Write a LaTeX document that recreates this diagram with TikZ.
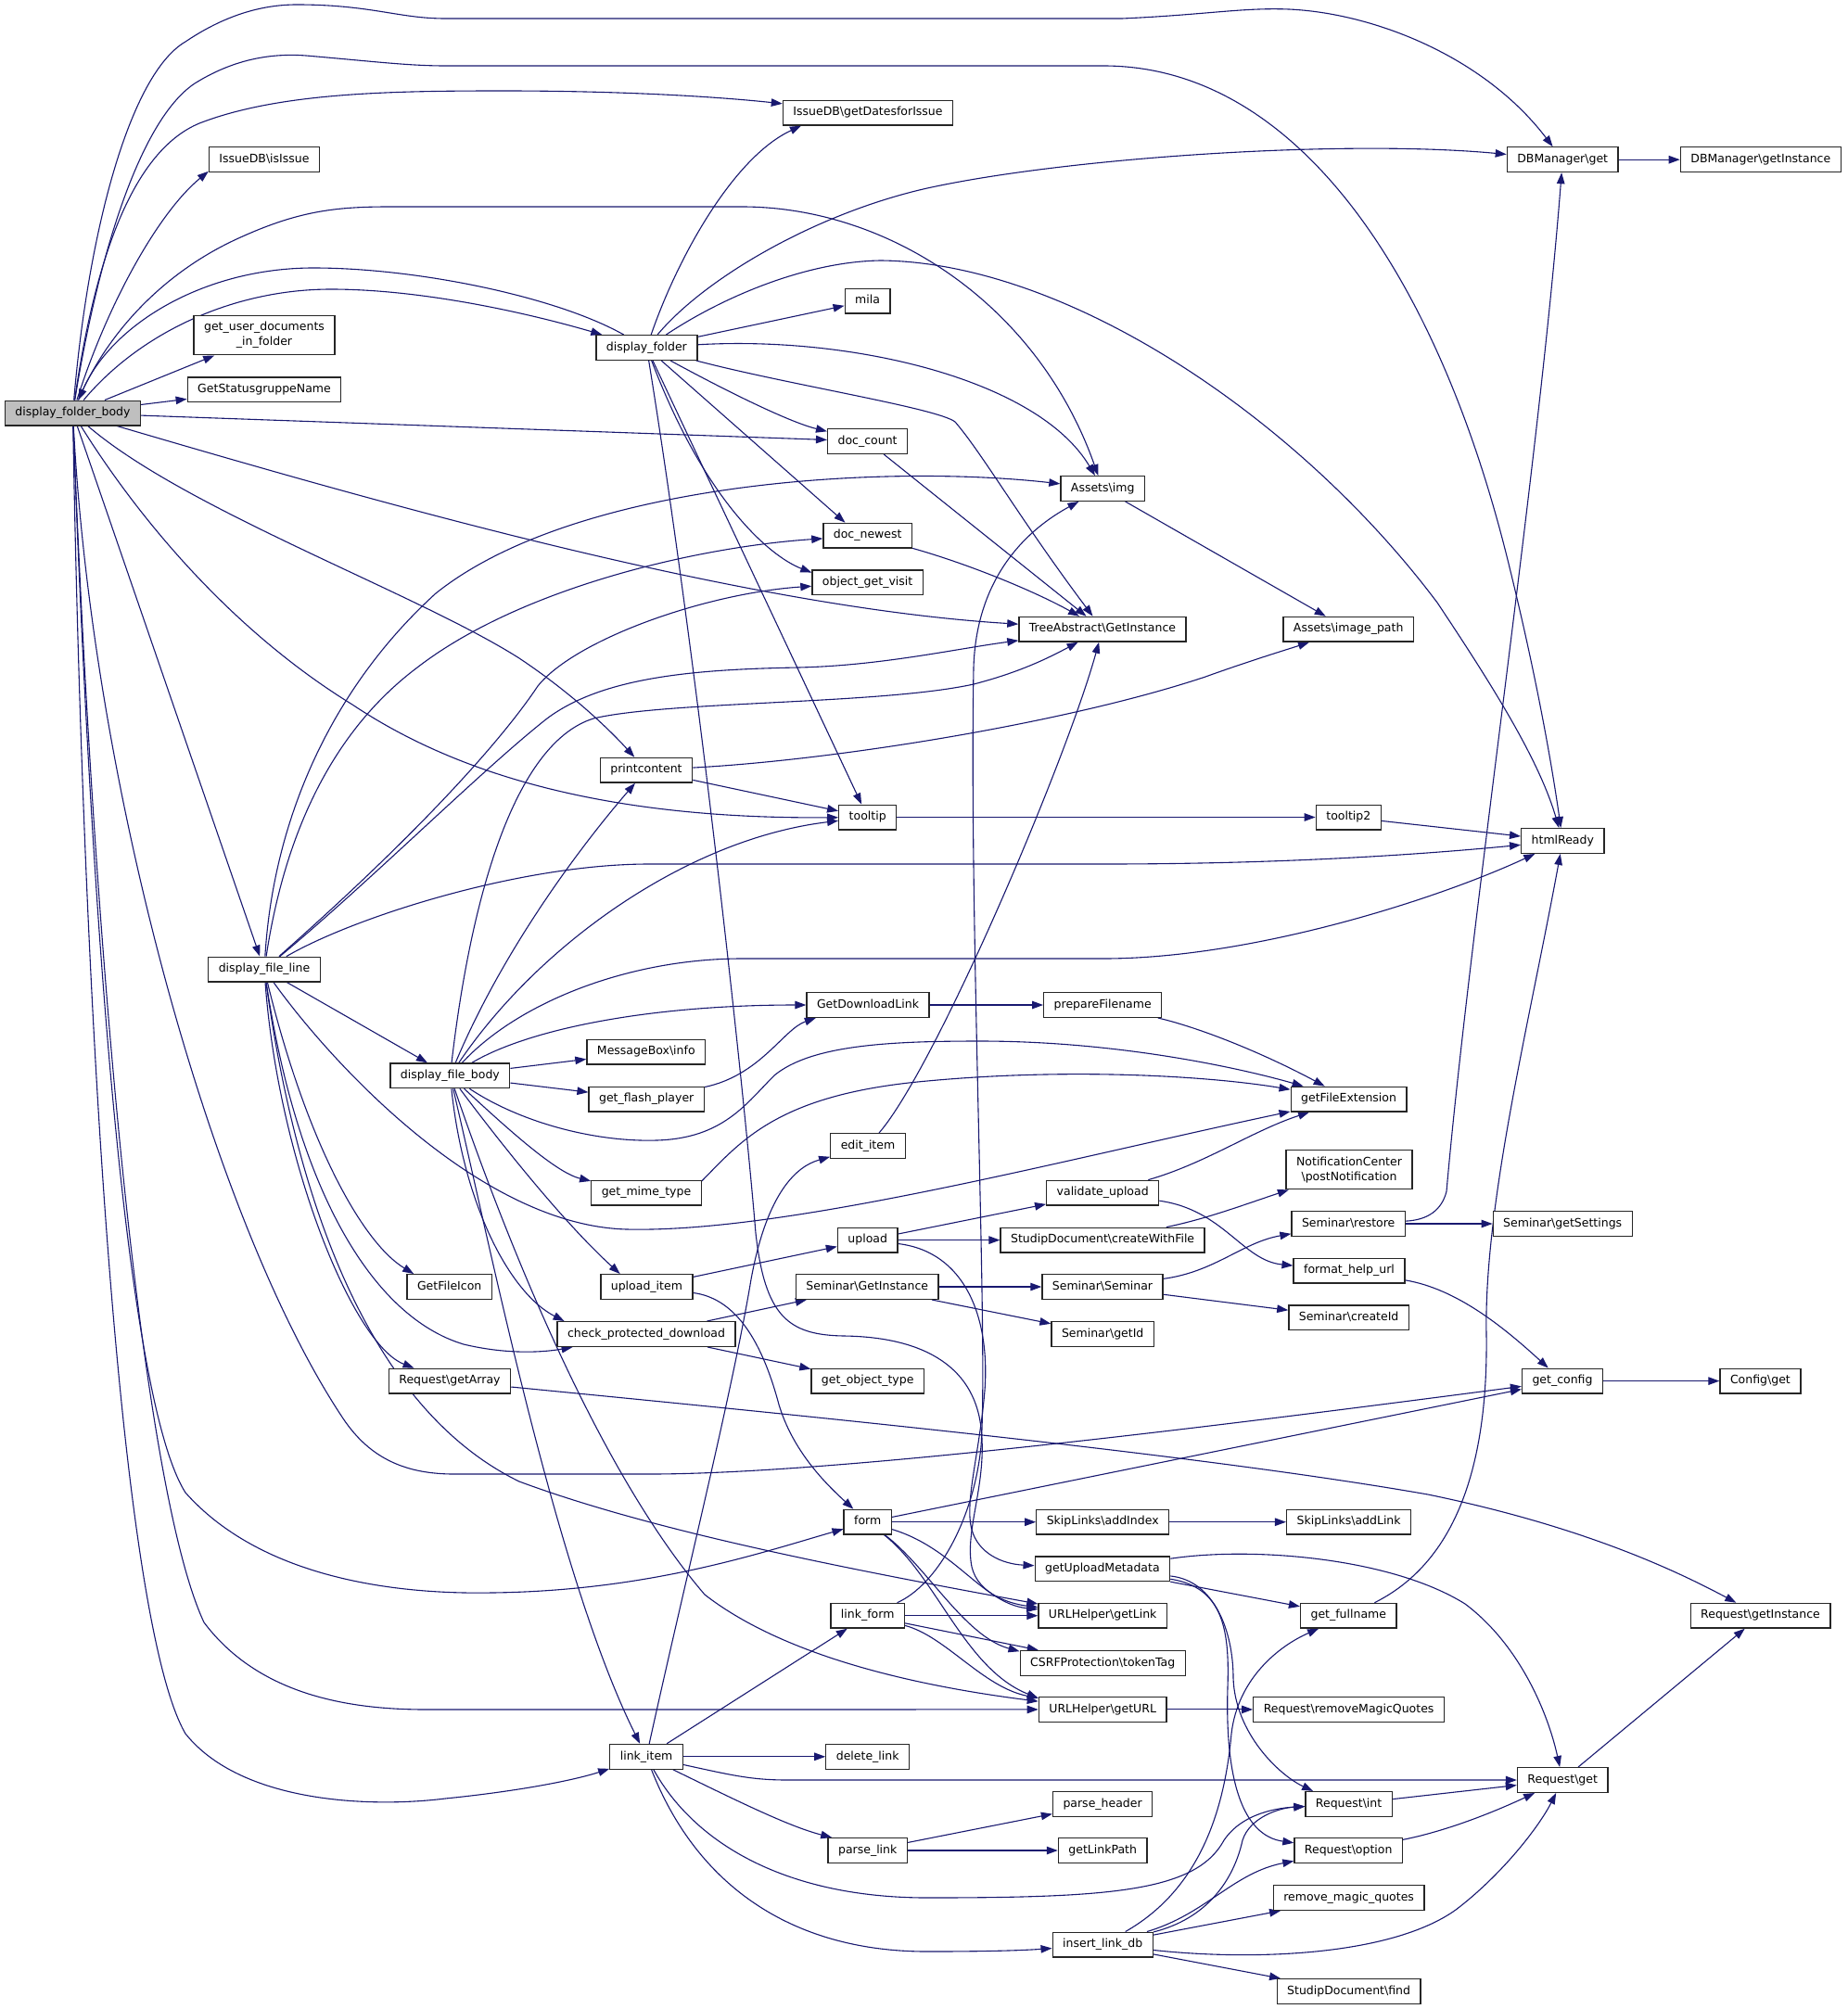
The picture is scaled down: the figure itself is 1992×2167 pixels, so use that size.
\documentclass[tikz,border=0pt]{standalone}
\usepackage{fontspec}
\setmainfont{DejaVu Sans}
\usetikzlibrary{arrows.meta, backgrounds}
\definecolor{edgeblue}{HTML}{191970}
\definecolor{rootgray}{HTML}{BFBFBF}
\newcommand{\bsl}{\textbackslash}

\begin{document}
\begin{tikzpicture}[%
        x=1pt, y=-1pt,
        fnbox/.style={draw=black!85, line width=1.3pt, fill=white, inner xsep=11pt,
            font={\fontsize{12.5}{16}\selectfont}},
        fn/.style={fnbox, minimum height=26.7pt, inner ysep=0pt, text height=9.5pt, text depth=3pt},
        fnii/.style={fnbox, align=center, inner ysep=7pt},
        fnroot/.style={fn, fill=rootgray},
        call/.style={draw=edgeblue, line width=1.1pt, -{Triangle[length=12pt,width=8.5pt]}}
    ]
    \useasboundingbox (0,0) rectangle (1992,2167);

    % --- functions, column by column ---
    \node[fnroot] (dfb) at (78.5,445.5) {display\_folder\_body};

    \node[fn] (isIssue) at (285,172) {IssueDB\bsl isIssue};
    \node[fnii] (getuser) at (285,361.6) {get\_user\_documents\\\_in\_folder};
    \node[fn] (statusg) at (285,420.2) {GetStatusgruppeName};
    \node[fn] (dfl) at (285,1045.6) {display\_file\_line};

    \node[fn] (dfbody) at (485.4,1160.3) {display\_file\_body};
    \node[fn] (fileicon) at (484.7,1388) {GetFileIcon};
    \node[fn] (getarray) at (485,1489.6) {Request\bsl getArray};

    \node[fn] (dfolder) at (697.4,375) {display\_folder};
    \node[fn] (printc) at (697,830.7) {printcontent};
    \node[fn] (msgbox) at (696.8,1134.6) {MessageBox\bsl info};
    \node[fn] (flash) at (697.2,1185.6) {get\_flash\_player};
    \node[fn] (mime) at (697,1286.6) {get\_mime\_type};
    \node[fn] (uploaditem) at (697.4,1388) {upload\_item};
    \node[fn] (checkpd) at (697,1439) {check\_protected\_download};
    \node[fn] (linkitem) at (697.1,1894.8) {link\_item};

    \node[fn] (getDates) at (936,121.7) {IssueDB\bsl getDatesforIssue};
    \node[fn] (mila) at (935.6,324.5) {mila};
    \node[fn] (doccount) at (935.6,476) {doc\_count};
    \node[fn] (docnewest) at (935.7,577.7) {doc\_newest};
    \node[fn] (visit) at (935.6,628.2) {object\_get\_visit};
    \node[fn] (tooltip) at (935.7,881.5) {tooltip};
    \node[fn] (dlink) at (936,1084) {GetDownloadLink};
    \node[fn] (edititem) at (936,1236) {edit\_item};
    \node[fn] (upload) at (935.7,1337.6) {upload};
    \node[fn] (semgi) at (935.3,1388) {Seminar\bsl GetInstance};
    \node[fn] (objtype) at (935.7,1489.6) {get\_object\_type};
    \node[fn] (form) at (935.7,1641.7) {form};
    \node[fn] (linkform) at (935.7,1742.7) {link\_form};
    \node[fn] (dellink) at (935.7,1894.8) {delete\_link};
    \node[fn] (parselink) at (935.7,1996) {parse\_link};

    \node[fn] (img) at (1189.2,527) {Assets\bsl img};
    \node[fn] (tree) at (1189,678.7) {TreeAbstract\bsl GetInstance};
    \node[fn] (prepfn) at (1189.2,1084) {prepareFilename};
    \node[fn] (validup) at (1189.2,1286.6) {validate\_upload};
    \node[fn] (createwf) at (1189.1,1337.6) {StudipDocument\bsl createWithFile};
    \node[fn] (seminar) at (1189,1388) {Seminar\bsl Seminar};
    \node[fn] (getid) at (1189.2,1439) {Seminar\bsl getId};
    \node[fn] (addindex) at (1189.2,1641.7) {SkipLinks\bsl addIndex};
    \node[fn] (upmeta) at (1188.9,1692.2) {getUploadMetadata};
    \node[fn] (getlink) at (1189.2,1742.7) {URLHelper\bsl getLink};
    \node[fn] (csrf) at (1189.2,1793.8) {CSRFProtection\bsl tokenTag};
    \node[fn] (geturl) at (1189.2,1843.9) {URLHelper\bsl getURL};
    \node[fn] (parsehdr) at (1189.1,1945.9) {parse\_header};
    \node[fn] (linkpath) at (1189.2,1996) {getLinkPath};
    \node[fn] (insertdb) at (1189.2,2097.5) {insert\_link\_db};

    \node[fn] (imgpath) at (1454.2,678.7) {Assets\bsl image\_path};
    \node[fn] (tooltipii) at (1454.3,881.5) {tooltip2};
    \node[fn] (fileext) at (1454.6,1185.6) {getFileExtension};
    \node[fnii] (notify) at (1455,1261.7) {NotificationCenter\\\bsl postNotification};
    \node[fn] (restore) at (1454.2,1320) {Seminar\bsl restore};
    \node[fn] (helpurl) at (1455,1370.7) {format\_help\_url};
    \node[fn] (createid) at (1454.6,1421.4) {Seminar\bsl createId};
    \node[fn] (addlink) at (1454.6,1641.7) {SkipLinks\bsl addLink};
    \node[fn] (fullname) at (1454.3,1742.7) {get\_fullname};
    \node[fn] (rmq) at (1454.6,1843.9) {Request\bsl removeMagicQuotes};
    \node[fn] (reqint) at (1454.6,1945.9) {Request\bsl int};
    \node[fn] (reqopt) at (1454.2,1996) {Request\bsl option};
    \node[fn] (rmmq) at (1454.6,2047) {remove\_magic\_quotes};
    \node[fn] (find) at (1454.6,2148) {StudipDocument\bsl find};

    \node[fn] (dbget) at (1685.2,172.2) {DBManager\bsl get};
    \node[fn] (html) at (1685.3,907) {htmlReady};
    \node[fn] (settings) at (1685.2,1320) {Seminar\bsl getSettings};
    \node[fn] (config) at (1685,1489.6) {get\_config};
    \node[fn] (reqget) at (1685.2,1920) {Request\bsl get};

    \node[fn] (dbinst) at (1898.8,172.2) {DBManager\bsl getInstance};
    \node[fn] (cfgget) at (1898.4,1489.6) {Config\bsl get};
    \node[fn] (reqinst) at (1898.5,1742.7) {Request\bsl getInstance};

    \begin{scope}[on background layer]
    \fill[white] (0,0) rectangle (1992,2167);

    % --- display_folder_body ---
    \draw[call] (dfb) .. controls (95,250) and (140,80) .. (200,45) .. controls (240,18) and (280,5) .. (320,5) .. controls (400,5) and (430,20) .. (480,20) -- (1210,20) .. controls (1300,16) and (1340,8) .. (1390,10) .. controls (1480,14) and (1600,60) .. (dbget);
    \draw[call] (dfb) .. controls (105,280) and (150,130) .. (210,90) .. controls (250,65) and (290,57) .. (330,60) .. controls (400,66) and (440,71) .. (480,71) -- (1190,71) .. controls (1400,71) and (1550,300) .. (1625,600) .. controls (1650,700) and (1670,800) .. (html);
    \draw[call] (dfb) .. controls (105,260) and (150,160) .. (215,133) .. controls (300,100) and (420,98) .. (542,98) .. controls (680,98) and (780,105) .. (getDates);
    \draw[call] (dfb) .. controls (115,330) and (170,230) .. (isIssue.-168);
    \draw[call] (dfb) .. controls (115,360) and (175,295) .. (255,258) .. controls (320,228) and (360,223) .. (420,223) -- (800,223) .. controls (960,223) and (1120,330) .. (img);
    \draw[call] (dfb) .. controls (150,360) and (250,312) .. (357,312) .. controls (450,312) and (560,335) .. (dfolder);
    \draw[call] (dfb) -- (getuser);
    \draw[call] (dfb) -- (statusg);
    \draw[call] (dfb) -- (doccount);
    \draw[call] (dfb) .. controls (400,540) and (800,655) .. (tree);
    \draw[call] (dfb) .. controls (200,550) and (450,640) .. (560,710) .. controls (620,750) and (660,790) .. (printc);
    \draw[call] (dfb) .. controls (150,560) and (250,680) .. (380,760) .. controls (470,820) and (620,884) .. (tooltip);
    \draw[call] (dfb) -- (dfl);
    \draw[call] (dfb) .. controls (100,850) and (230,1320) .. (370,1530) .. controls (400,1575) and (440,1590) .. (490,1590) -- (700,1590) .. controls (900,1590) and (1300,1540) .. (config);
    \draw[call] (dfb) .. controls (95,900) and (130,1500) .. (200,1610) .. controls (280,1700) and (420,1720) .. (530,1718) .. controls (700,1716) and (820,1675) .. (form);
    \draw[call] (dfb) .. controls (100,1000) and (150,1600) .. (220,1750) .. controls (280,1830) and (380,1844) .. (460,1844) -- (geturl);
    \draw[call] (dfb) .. controls (90,1100) and (130,1750) .. (200,1870) .. controls (260,1945) and (400,1950) .. (480,1940) .. controls (560,1932) and (620,1920) .. (linkitem);

    % --- display_folder ---
    \draw[call] (dfolder) .. controls (600,320) and (450,289) .. (338,289) .. controls (220,289) and (120,350) .. (dfb);
    \draw[call] (dfolder) .. controls (730,280) and (790,170) .. (getDates.-169);
    \draw[call] (dfolder) .. controls (760,300) and (880,230) .. (1000,203) .. controls (1150,170) and (1450,150) .. (dbget);
    \draw[call] (dfolder) .. controls (780,320) and (870,282) .. (950,281) .. controls (1150,283) and (1400,450) .. (1550,650) .. controls (1610,740) and (1660,820) .. (html);
    \draw[call] (dfolder) -- (mila);
    \draw[call] (dfolder) .. controls (920,362) and (1120,410) .. (img);
    \draw[call] (dfolder) .. controls (850,415) and (1010,440) .. (1030,455) .. controls (1060,490) and (1100,560) .. (tree);
    \draw[call] (dfolder) .. controls (780,420) and (850,455) .. (doccount);
    \draw[call] (dfolder) -- (docnewest.150);
    \draw[call] (dfolder) .. controls (760,540) and (830,600) .. (visit.170);
    \draw[call] (dfolder) -- (tooltip);
    \draw[call] (dfolder) .. controls (750,700) and (800,1150) .. (815,1330) .. controls (825,1420) and (850,1440) .. (910,1441) .. controls (990,1442) and (1050,1470) .. (1058,1540) .. controls (1065,1600) and (1040,1650) .. (1048,1690) .. controls (1055,1720) and (1090,1730) .. (getlink);

    % --- small helpers ---
    \draw[call] (doccount) -- (tree);
    \draw[call] (docnewest) .. controls (1050,610) and (1120,640) .. (tree);
    \draw[call] (img) -- (imgpath);
    \draw[call] (printc) .. controls (900,820) and (1150,780) .. (1300,730) .. controls (1350,712) and (1390,700) .. (imgpath);
    \draw[call] (printc) -- (tooltip);
    \draw[call] (tooltip) -- (tooltipii);
    \draw[call] (tooltipii) -- (html);
    \draw[call] (dbget) -- (dbinst);

    % --- display_file_line ---
    \draw[call] (dfl) .. controls (295,880) and (360,740) .. (470,640) .. controls (620,520) and (950,500) .. (img);
    \draw[call] (dfl) .. controls (310,880) and (370,780) .. (450,720) .. controls (560,635) and (750,590) .. (docnewest);
    \draw[call] (dfl) .. controls (450,900) and (540,800) .. (580,740) .. controls (620,690) and (760,640) .. (visit);
    \draw[call] (dfl) .. controls (400,950) and (520,830) .. (590,775) .. controls (650,730) and (750,722) .. (861,720) .. controls (950,718) and (1030,700) .. (tree);
    \draw[call] (dfl) .. controls (380,990) and (560,932) .. (700,932) -- (1190,932) .. controls (1400,932) and (1550,920) .. (html);
    \draw[call] (dfl) -- (dfbody);
    \draw[call] (dfl) .. controls (360,1150) and (520,1322) .. (676,1326) .. controls (850,1330) and (1150,1250) .. (fileext);
    \draw[call] (dfl) .. controls (330,1230) and (390,1340) .. (fileicon.160);
    \draw[call] (dfl) .. controls (320,1280) and (400,1420) .. (500,1450) .. controls (550,1462) and (590,1458) .. (checkpd.-170);
    \draw[call] (dfl) .. controls (300,1250) and (380,1450) .. (getarray.160);
    \draw[call] (dfl) .. controls (320,1300) and (400,1520) .. (560,1598) .. controls (700,1650) and (900,1690) .. (getlink);

    % --- display_file_body ---
    \draw[call] (dfbody) .. controls (510,950) and (560,800) .. (640,775) .. controls (720,756) and (950,760) .. (1050,738) .. controls (1100,725) and (1130,710) .. (tree);
    \draw[call] (dfbody) .. controls (540,1030) and (620,920) .. (printc);
    \draw[call] (dfbody) .. controls (580,1020) and (740,905) .. (tooltip);
    \draw[call] (dfbody) .. controls (560,1080) and (680,1034) .. (800,1034) -- (1190,1034) .. controls (1350,1034) and (1550,970) .. (html);
    \draw[call] (dfbody) .. controls (570,1110) and (700,1084) .. (dlink);
    \draw[call] (dfbody) -- (msgbox);
    \draw[call] (dfbody) -- (flash);
    \draw[call] (dfbody) .. controls (560,1210) and (640,1232) .. (708,1230) .. controls (780,1228) and (805,1190) .. (835,1160) .. controls (875,1127) and (960,1123) .. (1057,1123) .. controls (1200,1123) and (1330,1150) .. (fileext);
    \draw[call] (dfbody) .. controls (550,1220) and (600,1265) .. (mime.168);
    \draw[call] (dfbody) .. controls (560,1260) and (620,1330) .. (uploaditem.154);
    \draw[call] (dfbody) .. controls (500,1300) and (550,1395) .. (checkpd.171);
    \draw[call] (dfbody) .. controls (530,1350) and (600,1700) .. (linkitem);
    \draw[call] (dfbody) .. controls (540,1320) and (640,1580) .. (760,1720) .. controls (850,1790) and (1000,1820) .. (geturl);

    % --- file helpers ---
    \draw[call] (flash) .. controls (820,1160) and (845,1110) .. (dlink.-166);
    \draw[call] (dlink) -- (prepfn);
    \draw[call] (prepfn) .. controls (1300,1110) and (1370,1140) .. (fileext);
    \draw[call] (mime.12) .. controls (800,1230) and (840,1180) .. (1000,1166) .. controls (1150,1152) and (1300,1160) .. (fileext);
    \draw[call] (validup) .. controls (1300,1255) and (1350,1220) .. (fileext);
    \draw[call] (validup) .. controls (1320,1305) and (1340,1360) .. (helpurl);
    \draw[call] (edititem) .. controls (1010,1150) and (1150,820) .. (tree);

    % --- upload ---
    \draw[call] (uploaditem) -- (upload);
    \draw[call] (uploaditem) .. controls (790,1400) and (820,1440) .. (840,1515) .. controls (855,1565) and (890,1600) .. (form);
    \draw[call] (upload) -- (validup);
    \draw[call] (upload) -- (createwf);
    \draw[call] (upload) .. controls (1040,1350) and (1068,1420) .. (1062,1500) .. controls (1056,1570) and (1040,1620) .. (1048,1650) .. controls (1055,1675) and (1080,1687) .. (upmeta);
    \draw[call] (createwf) .. controls (1300,1315) and (1340,1300) .. (notify);

    % --- seminar ---
    \draw[call] (checkpd) -- (semgi);
    \draw[call] (checkpd) -- (objtype);
    \draw[call] (semgi) -- (seminar);
    \draw[call] (semgi) -- (getid);
    \draw[call] (seminar) .. controls (1310,1372) and (1340,1340) .. (restore);
    \draw[call] (seminar) -- (createid);
    \draw[call] (restore) -- (settings);
    \draw[call] (restore) .. controls (1540,1316) and (1555,1305) .. (1560,1285) .. controls (1585,1000) and (1660,500) .. (dbget);
    \draw[call] (helpurl) .. controls (1570,1390) and (1620,1430) .. (config);
    \draw[call] (config) -- (cfgget);

    % --- forms and links ---
    \draw[call] (form) -- (config);
    \draw[call] (form) -- (addindex);
    \draw[call] (addindex) -- (addlink);
    \draw[call] (form) .. controls (1030,1670) and (1060,1730) .. (getlink);
    \draw[call] (form) .. controls (1000,1690) and (1040,1765) .. (csrf.172);
    \draw[call] (form) .. controls (1010,1700) and (1040,1800) .. (geturl.170);
    \draw[call] (linkform) -- (getlink);
    \draw[call] (linkform) -- (csrf);
    \draw[call] (linkform) .. controls (1020,1765) and (1060,1820) .. (geturl.170);
    \draw[call] (linkform) .. controls (1010,1710) and (1050,1640) .. (1058,1560) .. controls (1066,1450) and (1045,1000) .. (1050,720) .. controls (1053,620) and (1110,570) .. (img);
    \draw[call] (geturl) -- (rmq);

    % --- link_item ---
    \draw[call] (linkitem) .. controls (740,1700) and (790,1500) .. (810,1380) .. controls (830,1270) and (870,1255) .. (edititem);
    \draw[call] (linkitem) -- (linkform);
    \draw[call] (linkitem) -- (dellink);
    \draw[call] (linkitem) .. controls (790,1915) and (810,1920) .. (850,1920) -- (reqget);
    \draw[call] (linkitem) .. controls (790,1940) and (850,1970) .. (parselink.160);
    \draw[call] (linkitem) .. controls (750,1990) and (850,2047) .. (1000,2047) .. controls (1200,2047) and (1290,2040) .. (1320,1985) .. controls (1340,1955) and (1380,1950) .. (reqint);
    \draw[call] (linkitem) .. controls (750,2030) and (850,2105) .. (1000,2105) .. controls (1060,2105) and (1100,2104) .. (insertdb);
    \draw[call] (parselink) -- (parsehdr);
    \draw[call] (parselink) -- (linkpath);

    % --- request ---
    \draw[call] (upmeta) -- (fullname);
    \draw[call] (upmeta) .. controls (1350,1668) and (1500,1680) .. (1580,1730) .. controls (1640,1775) and (1670,1850) .. (reqget);
    \draw[call] (upmeta) .. controls (1310,1705) and (1330,1760) .. (1330,1810) .. controls (1332,1870) and (1380,1915) .. (reqint.160);
    \draw[call] (upmeta) .. controls (1320,1712) and (1326,1760) .. (1324,1820) .. controls (1321,1920) and (1340,1980) .. (reqopt);
    \draw[call] (fullname) .. controls (1560,1690) and (1605,1600) .. (1603,1440) .. controls (1600,1300) and (1650,1100) .. (html);
    \draw[call] (getarray) .. controls (900,1530) and (1300,1570) .. (1540,1612) .. controls (1700,1645) and (1800,1690) .. (reqinst);
    \draw[call] (reqget) -- (reqinst);
    \draw[call] (reqint) -- (reqget);
    \draw[call] (reqopt) .. controls (1560,1975) and (1610,1955) .. (reqget);

    % --- insert_link_db ---
    \draw[call] (insertdb) .. controls (1290,2040) and (1320,1960) .. (1328,1870) .. controls (1335,1810) and (1380,1775) .. (fullname);
    \draw[call] (insertdb) .. controls (1300,2070) and (1330,2030) .. (1340,1985) .. controls (1348,1960) and (1380,1950) .. (reqint);
    \draw[call] (insertdb) .. controls (1300,2065) and (1330,2020) .. (reqopt);
    \draw[call] (insertdb) -- (rmmq);
    \draw[call] (insertdb) .. controls (1350,2115) and (1500,2110) .. (1570,2060) .. controls (1620,2022) and (1660,1970) .. (reqget);
    \draw[call] (insertdb) -- (find);
    \end{scope}
\end{tikzpicture}
\end{document}
